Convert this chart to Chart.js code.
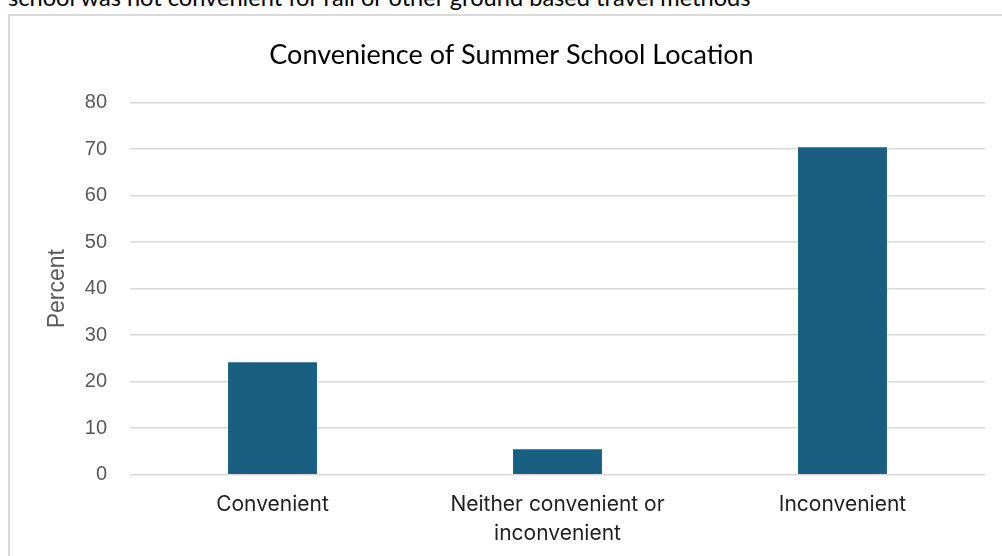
<!DOCTYPE html>
<html>
<head>
<meta charset="utf-8">
<script src="https://cdn.jsdelivr.net/npm/chart.js@4/dist/chart.umd.min.js"></script>
<style>
  html, body { margin: 0; padding: 0; background: #ffffff; }
  body { width: 1002px; height: 556px; position: relative; overflow: hidden; }
  #lead {
    position: absolute; left: 8px; top: -15px;
    font-family: Lato, "Open Sans", sans-serif; font-size: 23.6px; line-height: 24px;
    color: #000000; white-space: nowrap;
  }
  #frame {
    position: absolute; left: 8px; top: 14px; width: 1100px; height: 700px;
    border: 2px solid #d9d9d9; box-sizing: border-box;
  }
  #chart { position: absolute; left: 0; top: 0; }
</style>
</head>
<body>
<div id="lead">school was not convenient for rail or other ground based travel methods</div>
<div id="frame"></div>
<canvas id="chart" width="1002" height="556"></canvas>
<script>
// Survey answers and the share of respondents (percent) for each
const categories = ["Convenient", ["Neither convenient or", "inconvenient"], "Inconvenient"];
const percentages = [24.2, 5.5, 70.4];
const yTickValues = [0, 10, 20, 30, 40, 50, 60, 70, 80];

const barColor = "#185f82";
const gridColor = "#d9d9d9";

new Chart(document.getElementById("chart"), {
  type: "bar",
  data: {
    labels: categories,
    datasets: [{
      label: "Percent",
      data: percentages,
      backgroundColor: barColor,
      borderWidth: 0,
      barPercentage: 0.312,
      categoryPercentage: 1
    }]
  },
  options: {
    responsive: false,
    animation: false,
    events: [],
    layout: { padding: { left: 38, right: 17, top: 0, bottom: 0 } },
    plugins: {
      legend: { display: false },
      tooltip: { enabled: false },
      title: {
        display: true,
        text: "Convenience of Summer School Location",
        color: "#000000",
        font: { family: "Lato", size: 27, weight: "normal", lineHeight: 1.2 },
        padding: { top: 39.5, bottom: 30.8 }
      }
    },
    scales: {
      x: {
        grid: { display: false, drawTicks: false },
        border: { display: false },
        ticks: {
          color: "#1f1f1f",
          padding: 16,
          maxRotation: 0,
          autoSkip: false,
          font: { family: "Inter", size: 21, lineHeight: 1.35 }
        },
        afterFit: (scale) => { scale.height = 81.3; }
      },
      y: {
        min: 0,
        max: 80,
        afterBuildTicks: (scale) => { scale.ticks = yTickValues.map(v => ({ value: v })); },
        grid: { color: gridColor, lineWidth: 1.5, drawTicks: false },
        border: { display: false },
        ticks: {
          color: "#595959",
          padding: 23,
          font: { family: "Liberation Sans", size: 20 }
        },
        title: {
          display: true,
          text: "Percent",
          color: "#595959",
          font: { family: "Liberation Sans", size: 23, lineHeight: 1.2 },
          padding: { top: 6, bottom: 0 }
        },
        afterFit: (scale) => { scale.width = 92; }
      }
    }
  }
});
</script>
</body>
</html>
